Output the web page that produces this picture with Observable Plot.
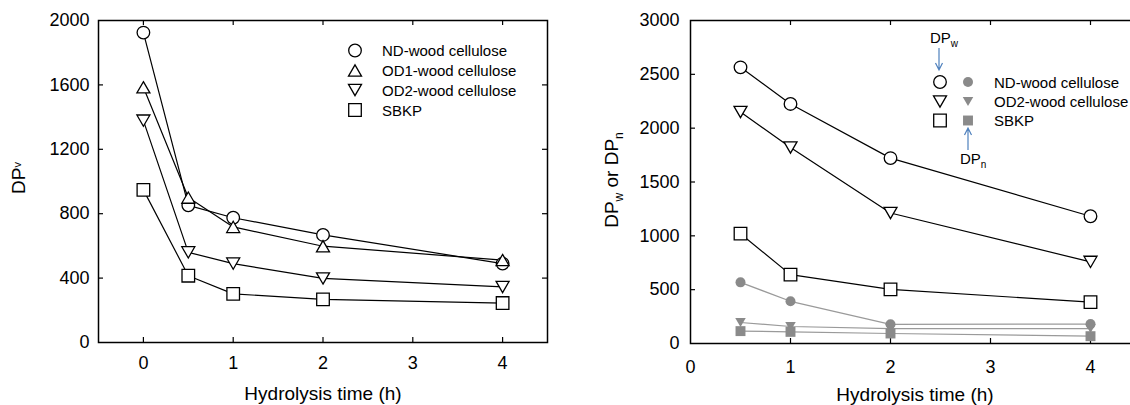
<!DOCTYPE html>
<html><head><meta charset="utf-8">
<script src="https://cdn.jsdelivr.net/npm/d3@7"></script>
<script src="https://cdn.jsdelivr.net/npm/@observablehq/plot@0.6"></script>
<style>
html,body{margin:0;padding:0;background:#fff;overflow:hidden;width:1130px;height:405px;}
#wrap{display:flex;width:1140px;height:405px;}
svg{display:block;flex:none;}
</style></head><body><div id="wrap"></div>
<script>
const FONT = "'Liberation Sans', Arial, Helvetica, sans-serif";

// ---------- Left panel data (DPv) ----------
const leftTimes = [0, 0.5, 1, 2, 4];
const dpvND   = [1925, 852, 775, 668, 490];
const dpvOD1  = [1585, 900, 718, 598, 512];
const dpvOD2  = [1378, 560, 490, 398, 345];
const dpvSBKP = [948, 415, 302, 268, 245];
const leftSeriesNames = ["ND-wood cellulose", "OD1-wood cellulose", "OD2-wood cellulose", "SBKP"];
const leftXTicks = [0, 1, 2, 3, 4];
const leftYTicks = [0, 400, 800, 1200, 1600, 2000];

// ---------- Right panel data (DPw, DPn) ----------
const rightTimes = [0.5, 1, 2, 4];
const dpwND   = [2565, 2225, 1722, 1182];
const dpwOD2  = [2150, 1820, 1212, 758];
const dpwSBKP = [1020, 640, 503, 384];
const dpnND   = [568, 392, 178, 180];
const dpnOD2  = [195, 158, 139, 139];
const dpnSBKP = [115, 108, 93, 68];
const rightSeriesNames = ["ND-wood cellulose", "OD2-wood cellulose", "SBKP"];
const rightXTicks = [0, 1, 2, 3, 4];
const rightYTicks = [0, 500, 1000, 1500, 2000, 2500, 3000];

const xTitle = "Hydrolysis time (h)";

// ---------- helpers ----------
function triangleSymbol(up) {
  return {draw(ctx, size) {
    const r = Math.sqrt(size / Math.PI), s = 2.1 * r, h = s * Math.sqrt(3) / 2, g = up ? 1 : -1;
    ctx.moveTo(0, -g * h / 2); ctx.lineTo(s / 2, g * h / 2); ctx.lineTo(-s / 2, g * h / 2); ctx.closePath();
  }};
}
const triUp = triangleSymbol(true), triDown = triangleSymbol(false);
const rows = (name, times, values) => times.map((t, i) => ({series: name, t, v: values[i]}));
const grey = "#8a8a8a", greyLine = "#9a9a9a", blue = "#4f81bd";
const TICK_FONT = 18;

function ticksMarks(xTicks, yTicks, innerW, innerH, sides) {
  const m = [];
  const xi = xTicks, yi = yTicks.slice(1, -1);
  if (sides.bottom) m.push(Plot.tickX(xi, {x: d => d, stroke: "#000", strokeWidth: 1.2, insetTop: innerH - 5}));
  if (sides.top) m.push(Plot.tickX(xi, {x: d => d, stroke: "#000", strokeWidth: 1.2, insetBottom: innerH - 5}));
  if (sides.left) m.push(Plot.tickY(yi, {y: d => d, stroke: "#000", strokeWidth: 1.2, insetRight: innerW - 5}));
  if (sides.right) m.push(Plot.tickY(yi, {y: d => d, stroke: "#000", strokeWidth: 1.2, insetLeft: innerW - 5}));
  return m;
}

function addText(sel, x, y, parts, opts = {}) {
  const t = sel.append("text").attr("x", x).attr("y", y)
    .attr("font-family", FONT).attr("fill", "#000")
    .attr("font-size", opts.size || 19).attr("text-anchor", opts.anchor || "middle");
  if (opts.rotate) t.attr("transform", `rotate(-90,${x},${y})`);
  let shift = 0;
  for (const p of parts) {
    const ts = t.append("tspan").text(p.text);
    const want = p.dy || 0;
    ts.attr("dy", want - shift); shift = want;
    if (p.size) ts.attr("font-size", p.size);
  }
  return t;
}
function arrow(g, x, y1, y2) {
  const dir = Math.sign(y2 - y1);
  g.append("path")
    .attr("d", `M${x},${y1}L${x},${y2}M${x - 3.5},${y2 - dir * 7}L${x},${y2}L${x + 3.5},${y2 - dir * 7}`)
    .attr("fill", "none").attr("stroke", blue).attr("stroke-width", 1.2);
}
function symPath(type, r) { return d3.symbol().type(type).size(Math.PI * r * r)(); }

const baseStyle = {fontSize: TICK_FONT + "px", fontFamily: FONT, color: "#000", background: "transparent", overflow: "visible"};

// ---------- Left chart ----------
const LW = 565, LH = 405, Lm = {top: 20, right: 18, bottom: 63, left: 98};
const LiW = LW - Lm.left - Lm.right, LiH = LH - Lm.top - Lm.bottom;
const leftSpecs = [
  {name: leftSeriesNames[0], values: dpvND, symbol: "circle", r: 6.3},
  {name: leftSeriesNames[1], values: dpvOD1, symbol: triUp, r: 6.2},
  {name: leftSeriesNames[2], values: dpvOD2, symbol: triDown, r: 6.2},
  {name: leftSeriesNames[3], values: dpvSBKP, symbol: "square", r: 7.1}
];
const leftMarks = [];
for (const s of leftSpecs) leftMarks.push(Plot.line(rows(s.name, leftTimes, s.values), {x: "t", y: "v", stroke: "#000", strokeWidth: 1.2}));
for (const s of leftSpecs) leftMarks.push(Plot.dot(rows(s.name, leftTimes, s.values), {x: "t", y: "v", symbol: s.symbol, r: s.r, fill: "#fff", stroke: "#000", strokeWidth: 1.3}));

const left = Plot.plot({
  width: LW, height: LH,
  marginTop: Lm.top, marginRight: Lm.right, marginBottom: Lm.bottom, marginLeft: Lm.left,
  style: baseStyle,
  x: {domain: [-0.5, 4.5], label: null},
  y: {domain: [0, 2000], label: null},
  marks: [
    ...ticksMarks(leftXTicks, leftYTicks, LiW, LiH, {bottom: true, top: true, left: true, right: true}),
    ...leftMarks,
    Plot.axisX(leftXTicks, {tickSize: 0, tickPadding: 14, tickFormat: d => String(d), fontSize: TICK_FONT, label: null}),
    Plot.axisY(leftYTicks, {tickSize: 0, tickPadding: 9, tickFormat: d => String(d), fontSize: TICK_FONT, label: null}),
    Plot.frame({stroke: "#000", strokeWidth: 1.5})
  ]
});
{
  const g = d3.select(left);
  addText(g, 323, 400, [{text: xTitle}], {size: 19});
  addText(g, 25, 178, [{text: "DP"}, {text: "v", size: 11, dy: -4}], {size: 19, rotate: true});
  const lg = g.append("g");
  const ys = [50.5, 70.5, 90, 110];
  leftSpecs.forEach((s, i) => {
    const type = s.symbol === "circle" ? d3.symbolCircle : s.symbol === "square" ? d3.symbolSquare : s.symbol;
    lg.append("path").attr("d", symPath(type, s.r)).attr("transform", `translate(355,${ys[i]})`)
      .attr("fill", "#fff").attr("stroke", "#000").attr("stroke-width", 1.3);
    addText(lg, 382, ys[i] + 5.5, [{text: s.name}], {size: 15, anchor: "start"});
  });
}

// ---------- Right chart ----------
const RW = 575, RH = 405, Rm = {top: 20, right: 0, bottom: 62, left: 125};
const RiW = RW - Rm.left - Rm.right, RiH = RH - Rm.top - Rm.bottom;
const wSpecs = [
  {name: rightSeriesNames[0], values: dpwND, symbol: "circle", r: 6.3},
  {name: rightSeriesNames[1], values: dpwOD2, symbol: triDown, r: 6.2},
  {name: rightSeriesNames[2], values: dpwSBKP, symbol: "square", r: 7.1}
];
const nSpecs = [
  {name: rightSeriesNames[0], values: dpnND, symbol: "circle", r: 5},
  {name: rightSeriesNames[1], values: dpnOD2, symbol: triDown, r: 5},
  {name: rightSeriesNames[2], values: dpnSBKP, symbol: "square", r: 5.6}
];
const rightMarks = [];
for (const s of nSpecs) rightMarks.push(Plot.line(rows(s.name, rightTimes, s.values), {x: "t", y: "v", stroke: greyLine, strokeWidth: 1.2}));
for (const s of wSpecs) rightMarks.push(Plot.line(rows(s.name, rightTimes, s.values), {x: "t", y: "v", stroke: "#000", strokeWidth: 1.2}));
for (const s of nSpecs) rightMarks.push(Plot.dot(rows(s.name, rightTimes, s.values), {x: "t", y: "v", symbol: s.symbol, r: s.r, fill: grey, stroke: "none"}));
for (const s of wSpecs) rightMarks.push(Plot.dot(rows(s.name, rightTimes, s.values), {x: "t", y: "v", symbol: s.symbol, r: s.r, fill: "#fff", stroke: "#000", strokeWidth: 1.3}));

const right = Plot.plot({
  width: RW, height: RH,
  marginTop: Rm.top, marginRight: Rm.right, marginBottom: Rm.bottom, marginLeft: Rm.left,
  style: baseStyle,
  x: {domain: [0, 4.5], label: null},
  y: {domain: [0, 3000], label: null},
  marks: [
    ...ticksMarks(rightXTicks.slice(1), rightYTicks, RiW, RiH, {bottom: true, top: true, left: true}),
    ...rightMarks,
    Plot.axisX(rightXTicks, {tickSize: 0, tickPadding: 17, tickFormat: d => String(d), fontSize: TICK_FONT, label: null}),
    Plot.axisY(rightYTicks, {tickSize: 0, tickPadding: 11, tickFormat: d => String(d), fontSize: TICK_FONT, label: null}),
    Plot.frame({stroke: "#000", strokeWidth: 1.5})
  ]
});
{
  const g = d3.select(right);
  addText(g, 350, 401, [{text: xTitle}], {size: 19});
  addText(g, 53, 180, [{text: "DP"}, {text: "w", size: 12, dy: 5}, {text: " or DP", dy: 0}, {text: "n", size: 12, dy: 5}], {size: 19, rotate: true});
  const lg = g.append("g");
  addText(lg, 365, 43, [{text: "DP"}, {text: "w", size: 10, dy: 4}], {size: 15, anchor: "start"});
  arrow(lg, 374, 48, 70);
  const ys = [82, 101.5, 120.5];
  wSpecs.forEach((s, i) => {
    const type = s.symbol === "circle" ? d3.symbolCircle : s.symbol === "square" ? d3.symbolSquare : s.symbol;
    lg.append("path").attr("d", symPath(type, s.r)).attr("transform", `translate(375,${ys[i]})`)
      .attr("fill", "#fff").attr("stroke", "#000").attr("stroke-width", 1.3);
    const n = nSpecs[i];
    const ntype = n.symbol === "circle" ? d3.symbolCircle : n.symbol === "square" ? d3.symbolSquare : n.symbol;
    lg.append("path").attr("d", symPath(ntype, n.r)).attr("transform", `translate(403,${ys[i]})`)
      .attr("fill", grey);
    addText(lg, 429, ys[i] + 5.5, [{text: s.name}], {size: 15, anchor: "start"});
  });
  arrow(lg, 403, 150, 128);
  addText(lg, 395, 164, [{text: "DP"}, {text: "n", size: 10, dy: 4}], {size: 15, anchor: "start"});
}

document.getElementById("wrap").append(left, right);
</script>
</body></html>
